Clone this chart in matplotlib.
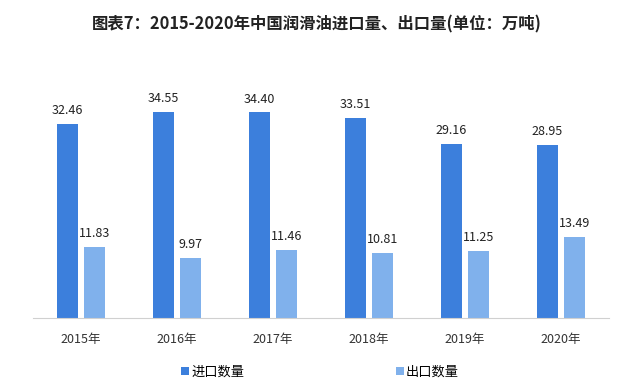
import matplotlib
matplotlib.use('Agg')
import matplotlib.pyplot as plt
import numpy as np

plt.rcParams['font.family'] = ['Noto Sans CJK SC', 'DejaVu Sans']

years = ['2015年', '2016年', '2017年', '2018年', '2019年', '2020年']
imports = [32.46, 34.55, 34.40, 33.51, 29.16, 28.95]
exports = [11.83, 9.97, 11.46, 10.81, 11.25, 13.49]

c_imp = '#3c7fdc'
c_exp = '#80b1ec'

fig = plt.figure(figsize=(6.34, 3.88), dpi=100)
ax = fig.add_axes([33/634, 1-318/388, 576/634, 239/388])

x = np.arange(len(years))
w = 0.22
off = 0.145
b1 = ax.bar(x - off, imports, w, color=c_imp, label='进口数量')
b2 = ax.bar(x + off, exports, w, color=c_exp, label='出口数量')

for bars, vals in [(b1, imports), (b2, exports)]:
    for r, v in zip(bars, vals):
        ax.annotate('%.2f' % v, (r.get_x() + r.get_width()/2, v),
                    xytext=(0, 5), textcoords='offset points',
                    ha='center', va='bottom', fontsize=9, color='#222222')

ax.set_xlim(-0.5, len(years) - 0.5)
ax.set_ylim(0, 40)
ax.set_xticks(x)
ax.set_xticklabels(years, fontsize=9, color='#333333')
ax.tick_params(axis='x', length=0, pad=11)
ax.set_yticks([])
for s in ['top', 'right', 'left']:
    ax.spines[s].set_visible(False)
ax.spines['bottom'].set_color('#d0d0d0')

fig.legend(handles=[b1, b2], loc='center', bbox_to_anchor=(320/634, 1-372/388),
           ncol=2, frameon=False, fontsize=9.5, handlelength=0.6, handleheight=0.6,
           handletextpad=0.15, columnspacing=11.5)

fig.text(0.5, 1-24/388, '图表7：2015-2020年中国润滑油进口量、出口量(单位：万吨)',
         ha='center', va='center', fontsize=11.8, fontweight='bold', color='#222222')

fig.savefig('out.png', dpi=100)
